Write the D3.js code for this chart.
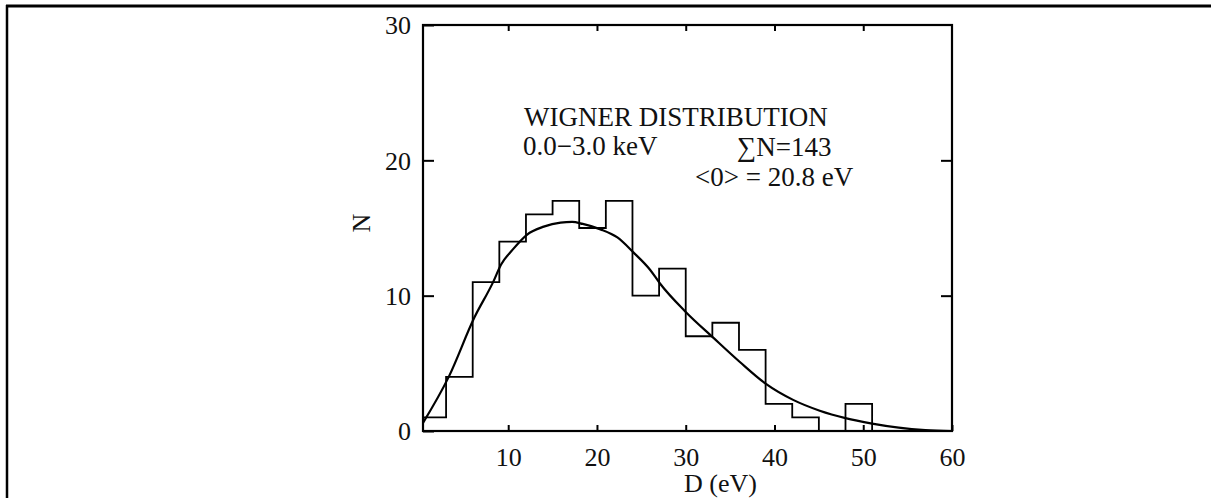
<!DOCTYPE html>
<html>
<head>
<meta charset="utf-8">
<script src="https://cdn.jsdelivr.net/npm/d3@7"></script>
<style>
  html, body { margin: 0; padding: 0; background: #fff; }
  svg { display: block; }
  text { font-family: "Liberation Serif", "DejaVu Serif", serif; fill: #111; }
</style>
</head>
<body>
<svg id="chart" width="1211" height="498"></svg>
<script>
// ---- data ----
const binStarts = [0, 3, 6, 9, 12, 15, 18, 21, 24, 27, 30, 33, 36, 39, 42, 45, 48];
const binCounts = [1, 4, 11, 14, 16, 17, 15, 17, 10, 12, 7, 8, 6, 2, 1, 0, 2];
const binWidth = 3;

const curveD = [0.4, 3.3, 6.2, 8.3, 9.2, 10.5, 12.1, 14.0, 15.9, 17.2, 18.4, 20.4, 22.3, 24.1, 26.0, 27.1, 30.0, 33.1, 36.1, 39.0, 42.1, 45.1, 48.0, 51.0, 54.0, 57.0, 60.0];
const curveN = [0.6, 4.0, 8.4, 11.0, 12.3, 13.4, 14.5, 15.1, 15.4, 15.45, 15.3, 14.9, 14.3, 13.2, 11.9, 10.9, 8.8, 6.9, 5.1, 3.5, 2.3, 1.5, 0.95, 0.55, 0.25, 0.07, 0.0];

const xTicks = [10, 20, 30, 40, 50, 60];
const yTicks = [0, 10, 20, 30];
const xDomain = [0.4, 60];
const yDomain = [0, 30];

const annotTitle = "WIGNER DISTRIBUTION";
const annotRange = "0.0\u22123.0 keV";
const annotSum = "\u2211N=143";
const annotMean = "<0> = 20.8 eV";
const xLabel = "D (eV)";
const yLabel = "N";

// ---- layout ----
const svg = d3.select("#chart");
const L = 423, R = 952, T = 25, B = 431;

const x = d3.scaleLinear().domain(xDomain).range([L, R]);
const y = d3.scaleLinear().domain(yDomain).range([B, T]);

// outer page frame (partial, as in the scan)
svg.append("line").attr("x1", 6).attr("x2", 1211).attr("y1", 6).attr("y2", 6)
  .attr("stroke", "#000").attr("stroke-width", 3);
svg.append("line").attr("x1", 7).attr("x2", 7).attr("y1", 5).attr("y2", 498)
  .attr("stroke", "#000").attr("stroke-width", 2.5);

const fontSize = 26;

// bottom axis
const gB = svg.append("g").attr("transform", `translate(0,${B})`)
  .call(d3.axisBottom(x).tickValues(xTicks).tickSizeInner(-6).tickSizeOuter(0).tickPadding(17).tickFormat(d3.format("d")));
// left axis
const gL = svg.append("g").attr("transform", `translate(${L},0)`)
  .call(d3.axisLeft(y).tickValues(yTicks).tickSizeInner(-11).tickSizeOuter(0).tickPadding(12).tickFormat(d3.format("d")));
// top axis (ticks only)
const gT = svg.append("g").attr("transform", `translate(0,${T})`)
  .call(d3.axisTop(x).tickValues(xTicks.filter(d => d < 60)).tickSizeInner(-6).tickSizeOuter(0).tickFormat(""));
// right axis (ticks only)
const gR = svg.append("g").attr("transform", `translate(${R},0)`)
  .call(d3.axisRight(y).tickValues(yTicks.filter(d => d > 0 && d < 30)).tickSizeInner(-11).tickSizeOuter(0).tickFormat(""));

[gB, gL, gT, gR].forEach(g => {
  g.select(".domain").remove();
  g.selectAll(".tick line").attr("stroke", "#000").attr("stroke-width", 2);
  g.selectAll(".tick text").style("font-family", '"Liberation Serif", serif')
    .style("font-size", fontSize + "px").attr("fill", "#111");
});
gL.selectAll(".tick text").attr("dy", "0.34em");

// frame
svg.append("rect").attr("x", L).attr("y", T).attr("width", R - L).attr("height", B - T)
  .attr("fill", "none").attr("stroke", "#000").attr("stroke-width", 2.2);

// histogram step outline
const stepPts = binStarts.map((s, i) => [Math.max(s, xDomain[0]), binCounts[i]]);
const lastEnd = binStarts[binStarts.length - 1] + binWidth;
stepPts.push([lastEnd, 0]);
stepPts.unshift([xDomain[0], 0]);
const stepLine = d3.line().x(d => x(d[0])).y(d => y(d[1])).curve(d3.curveStepAfter);
svg.append("path").datum(stepPts).attr("d", stepLine)
  .attr("fill", "none").attr("stroke", "#000").attr("stroke-width", 1.8);

// fitted curve
const curvePts = curveD.map((d, i) => [d, curveN[i]]);
const smooth = d3.line().x(d => x(d[0])).y(d => y(d[1])).curve(d3.curveMonotoneX);
svg.append("path").datum(curvePts).attr("d", smooth)
  .attr("fill", "none").attr("stroke", "#000").attr("stroke-width", 2.2);

// annotations
const annotSize = 27;
svg.append("text").attr("x", 524).attr("y", 126).style("font-size", annotSize + "px").text(annotTitle);
svg.append("text").attr("x", 523).attr("y", 155).style("font-size", annotSize + "px").text(annotRange);
svg.append("text").attr("x", 737).attr("y", 156).style("font-size", annotSize + "px").text(annotSum);
svg.append("text").attr("x", 695).attr("y", 186).style("font-size", annotSize + "px").text(annotMean);

// axis titles
svg.append("text").attr("x", 684).attr("y", 492).style("font-size", fontSize + "px").text(xLabel);
svg.append("text").attr("transform", "translate(370,223) rotate(-90)")
  .attr("text-anchor", "middle").style("font-size", fontSize + "px").text(yLabel);
</script>
</body>
</html>
